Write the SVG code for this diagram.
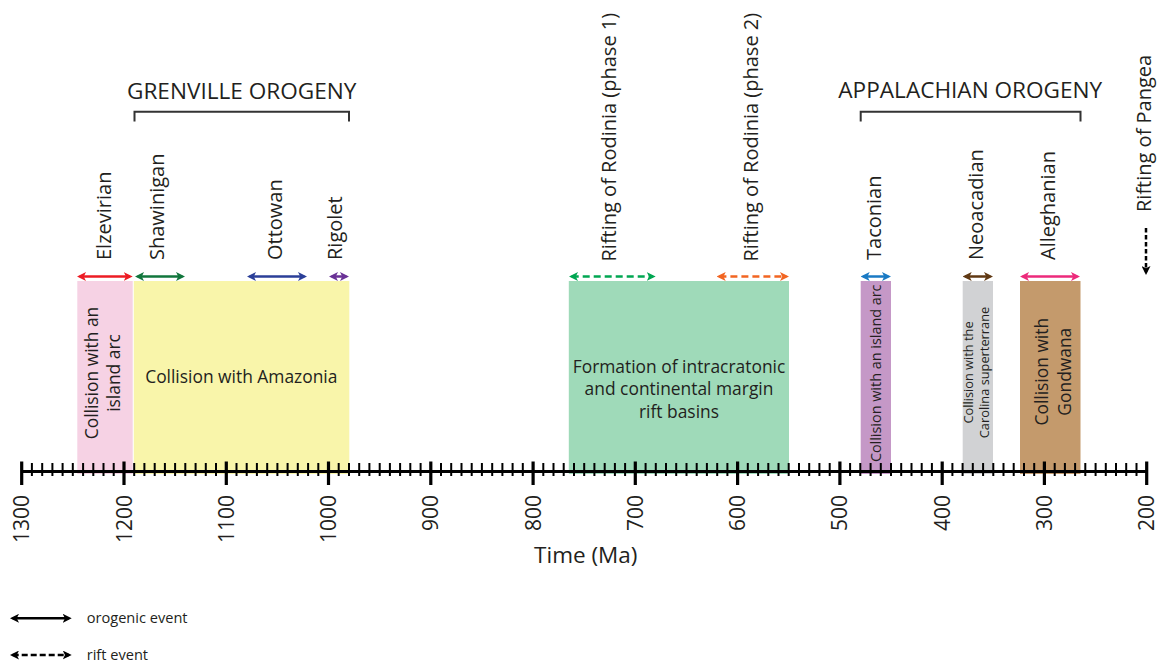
<svg xmlns="http://www.w3.org/2000/svg" width="1163" height="667" viewBox="0 0 1163 667">
<style>
text{font-family:"Open Sans","Noto Sans","Liberation Sans",sans-serif;fill:#231f20}
.title{font-size:22.6px;text-anchor:middle}
.lab{font-size:20px}
.num{font-size:21px;text-anchor:end}
.in{font-size:17.4px;text-anchor:middle}
.arr{fill:none;stroke-width:2.5}
.dash{stroke-dasharray:7 4}
.brk{fill:none;stroke:#333;stroke-width:2}
</style>
<defs>
<marker id="mk-red" viewBox="0 0 10 10" markerUnits="userSpaceOnUse" markerWidth="9" markerHeight="9" refX="7" refY="5" orient="auto-start-reverse"><path d="M0,0 L10,5 L0,10 L2.5,5 Z" fill="#ed1c24"/></marker>
<marker id="mk-dgreen" viewBox="0 0 10 10" markerUnits="userSpaceOnUse" markerWidth="9" markerHeight="9" refX="7" refY="5" orient="auto-start-reverse"><path d="M0,0 L10,5 L0,10 L2.5,5 Z" fill="#11763c"/></marker>
<marker id="mk-blue" viewBox="0 0 10 10" markerUnits="userSpaceOnUse" markerWidth="9" markerHeight="9" refX="7" refY="5" orient="auto-start-reverse"><path d="M0,0 L10,5 L0,10 L2.5,5 Z" fill="#2b3f98"/></marker>
<marker id="mk-purple" viewBox="0 0 10 10" markerUnits="userSpaceOnUse" markerWidth="9" markerHeight="9" refX="7" refY="5" orient="auto-start-reverse"><path d="M0,0 L10,5 L0,10 L2.5,5 Z" fill="#6a3296"/></marker>
<marker id="mk-green" viewBox="0 0 10 10" markerUnits="userSpaceOnUse" markerWidth="9" markerHeight="9" refX="7" refY="5" orient="auto-start-reverse"><path d="M0,0 L10,5 L0,10 L2.5,5 Z" fill="#00a651"/></marker>
<marker id="mk-orange" viewBox="0 0 10 10" markerUnits="userSpaceOnUse" markerWidth="9" markerHeight="9" refX="7" refY="5" orient="auto-start-reverse"><path d="M0,0 L10,5 L0,10 L2.5,5 Z" fill="#f26522"/></marker>
<marker id="mk-lblue" viewBox="0 0 10 10" markerUnits="userSpaceOnUse" markerWidth="9" markerHeight="9" refX="7" refY="5" orient="auto-start-reverse"><path d="M0,0 L10,5 L0,10 L2.5,5 Z" fill="#1a7ac4"/></marker>
<marker id="mk-brown" viewBox="0 0 10 10" markerUnits="userSpaceOnUse" markerWidth="9" markerHeight="9" refX="7" refY="5" orient="auto-start-reverse"><path d="M0,0 L10,5 L0,10 L2.5,5 Z" fill="#603913"/></marker>
<marker id="mk-pink" viewBox="0 0 10 10" markerUnits="userSpaceOnUse" markerWidth="9" markerHeight="9" refX="7" refY="5" orient="auto-start-reverse"><path d="M0,0 L10,5 L0,10 L2.5,5 Z" fill="#ec2a7b"/></marker>
<marker id="mk-black" viewBox="0 0 10 10" markerUnits="userSpaceOnUse" markerWidth="9" markerHeight="9" refX="7" refY="5" orient="auto-start-reverse"><path d="M0,0 L10,5 L0,10 L2.5,5 Z" fill="#000"/></marker>
</defs>
<rect width="1163" height="667" fill="#fff"/>

<g id="event-boxes">
<g id="box-elzevirian"><rect x="77.3" y="281" width="55.4" height="193" fill="#f6d2e4"/>
<text class="in" transform="translate(97.5,373) rotate(-90)">Collision with an</text>
<text class="in" transform="translate(119.5,373) rotate(-90)">island arc</text></g>
<g id="box-amazonia"><rect x="133.8" y="281" width="215.5" height="193" fill="#f9f5aa"/>
<text class="in" x="241.3" y="383">Collision with Amazonia</text></g>
<g id="box-rift"><rect x="568.8" y="281" width="220.2" height="193" fill="#9fdab9"/>
<text class="in" x="679" y="372.5">Formation of intracratonic</text>
<text class="in" x="679" y="395">and continental margin</text>
<text class="in" x="679" y="417.5">rift basins</text></g>
<g id="box-taconian"><rect x="860.7" y="281" width="30.3" height="193" fill="#c598c7"/>
<text class="in" style="font-size:14.4px" transform="translate(881,373.3) rotate(-90)">Collision with an island arc</text></g>
<g id="box-neoacadian"><rect x="962.7" y="281" width="30.3" height="193" fill="#d1d2d4"/>
<text class="in" style="font-size:12.8px" transform="translate(973,372.5) rotate(-90)">Collision with the</text>
<text class="in" style="font-size:12.8px" transform="translate(988.5,372.5) rotate(-90)">Carolina superterrane</text></g>
<g id="box-alleghanian"><rect x="1020" y="281" width="60.5" height="193" fill="#c49a6c"/>
<text class="in" transform="translate(1048,371.7) rotate(-90)">Collision with</text>
<text class="in" transform="translate(1070.5,371.7) rotate(-90)">Gondwana</text></g>
</g>

<g id="axis">
<path d="M21.7,471.5 H1146.7" stroke="#000" stroke-width="3" fill="none"/>
<path stroke="#000" stroke-width="3.2" fill="none" d="M21.7,461.5V485 M124,461.5V485 M226.3,461.5V485 M328.5,461.5V485 M430.8,461.5V485 M533.1,461.5V485 M635.3,461.5V485 M737.6,461.5V485 M839.9,461.5V485 M942.2,461.5V485 M1044.4,461.5V485 M1146.7,461.5V485"/>
<path stroke="#000" stroke-width="2" fill="none" d="M31.9,463V476 M42.2,463V476 M52.4,463V476 M62.6,463V476 M72.8,463V476 M83.1,463V476 M93.3,463V476 M103.5,463V476 M113.7,463V476
M134.2,463V476 M144.4,463V476 M154.7,463V476 M164.9,463V476 M175.1,463V476 M185.3,463V476 M195.6,463V476 M205.8,463V476 M216,463V476
M236.5,463V476 M246.7,463V476 M256.9,463V476 M267.2,463V476 M277.4,463V476 M287.6,463V476 M297.8,463V476 M308.1,463V476 M318.3,463V476
M338.7,463V476 M349,463V476 M359.2,463V476 M369.4,463V476 M379.7,463V476 M389.9,463V476 M400.1,463V476 M410.3,463V476 M420.6,463V476
M441,463V476 M451.2,463V476 M461.5,463V476 M471.7,463V476 M481.9,463V476 M492.2,463V476 M502.4,463V476 M512.6,463V476 M522.8,463V476
M543.3,463V476 M553.5,463V476 M563.7,463V476 M574,463V476 M584.2,463V476 M594.4,463V476 M604.7,463V476 M614.9,463V476 M625.1,463V476
M645.6,463V476 M655.8,463V476 M666,463V476 M676.2,463V476 M686.5,463V476 M696.7,463V476 M706.9,463V476 M717.2,463V476 M727.4,463V476
M747.8,463V476 M758.1,463V476 M768.3,463V476 M778.5,463V476 M788.7,463V476 M799,463V476 M809.2,463V476 M819.4,463V476 M829.7,463V476
M850.1,463V476 M860.3,463V476 M870.6,463V476 M880.8,463V476 M891,463V476 M901.2,463V476 M911.5,463V476 M921.7,463V476 M931.9,463V476
M952.4,463V476 M962.6,463V476 M972.8,463V476 M983.1,463V476 M993.3,463V476 M1003.5,463V476 M1013.7,463V476 M1024,463V476 M1034.2,463V476
M1054.7,463V476 M1064.9,463V476 M1075.1,463V476 M1085.3,463V476 M1095.6,463V476 M1105.8,463V476 M1116,463V476 M1126.2,463V476 M1136.5,463V476"/>
<text class="num" transform="translate(29.2,495) rotate(-90)">1300</text>
<text class="num" transform="translate(131.5,495) rotate(-90)">1200</text>
<text class="num" transform="translate(233.8,495) rotate(-90)">1100</text>
<text class="num" transform="translate(336,495) rotate(-90)">1000</text>
<text class="num" transform="translate(438.3,495) rotate(-90)">900</text>
<text class="num" transform="translate(540.6,495) rotate(-90)">800</text>
<text class="num" transform="translate(642.8,495) rotate(-90)">700</text>
<text class="num" transform="translate(745.1,495) rotate(-90)">600</text>
<text class="num" transform="translate(847.4,495) rotate(-90)">500</text>
<text class="num" transform="translate(949.7,495) rotate(-90)">400</text>
<text class="num" transform="translate(1051.9,495) rotate(-90)">300</text>
<text class="num" transform="translate(1154.2,495) rotate(-90)">200</text>
<text class="title" style="font-size:22.5px" x="585.8" y="563.3">Time (Ma)</text>
</g>

<g id="orogenies">
<g id="grenville"><text class="title" x="241.7" y="98.5">GRENVILLE OROGENY</text>
<path class="brk" d="M134.5,121.5 V111.7 H349 V121.5"/></g>
<g id="appalachian"><text class="title" x="970.3" y="98.3">APPALACHIAN OROGENY</text>
<path class="brk" d="M860.7,121.5 V111.7 H1080.5 V121.5"/></g>
</g>

<g id="event-labels">
<text class="lab" transform="translate(111,260) rotate(-90)">Elzevirian</text>
<text class="lab" transform="translate(164,260) rotate(-90)">Shawinigan</text>
<text class="lab" transform="translate(282,260) rotate(-90)">Ottowan</text>
<text class="lab" transform="translate(342,260) rotate(-90)">Rigolet</text>
<text class="lab" transform="translate(615.5,261.5) rotate(-90)">Rifting of Rodinia (phase 1)</text>
<text class="lab" transform="translate(758,261.5) rotate(-90)">Rifting of Rodinia (phase 2)</text>
<text class="lab" transform="translate(881,260) rotate(-90)">Taconian</text>
<text class="lab" transform="translate(983,260) rotate(-90)">Neoacadian</text>
<text class="lab" transform="translate(1055,260) rotate(-90)">Alleghanian</text>
<text class="lab" transform="translate(1151,212) rotate(-90)">Rifting of Pangea</text>
</g>

<g id="connectors">
<path class="arr" stroke="#ed1c24" marker-start="url(#mk-red)" marker-end="url(#mk-red)" d="M79.7,276.5 H130"/>
<path class="arr" stroke="#11763c" marker-start="url(#mk-dgreen)" marker-end="url(#mk-dgreen)" d="M137.7,276.5 H182.3"/>
<path class="arr" stroke="#2b3f98" marker-start="url(#mk-blue)" marker-end="url(#mk-blue)" d="M249.7,276.5 H304.3"/>
<path class="arr" stroke="#6a3296" marker-start="url(#mk-purple)" marker-end="url(#mk-purple)" d="M331.7,276.5 H346.3"/>
<path class="arr dash" stroke="#00a651" marker-start="url(#mk-green)" marker-end="url(#mk-green)" d="M571.7,276.5 H653"/>
<path class="arr dash" stroke="#f26522" marker-start="url(#mk-orange)" marker-end="url(#mk-orange)" d="M719.4,276.5 H786.3"/>
<path class="arr" stroke="#1a7ac4" marker-start="url(#mk-lblue)" marker-end="url(#mk-lblue)" d="M863.4,276.5 H888.3"/>
<path class="arr" stroke="#603913" marker-start="url(#mk-brown)" marker-end="url(#mk-brown)" d="M965.4,276.5 H990.3"/>
<path class="arr" stroke="#ec2a7b" marker-start="url(#mk-pink)" marker-end="url(#mk-pink)" d="M1022.7,276.5 H1077.3"/>
<path class="arr" stroke="#000" style="stroke-dasharray:4.5 2.5" marker-end="url(#mk-black)" d="M1146,228 V272.3"/>
</g>

<g id="legend">
<g id="legend-orogenic"><path class="arr" stroke="#000" marker-start="url(#mk-black)" marker-end="url(#mk-black)" d="M12.7,618.3 H69"/>
<text x="86.7" y="623.3" style="font-size:14.6px">orogenic event</text></g>
<g id="legend-rift"><path class="arr" stroke="#000" style="stroke-dasharray:6 3" marker-start="url(#mk-black)" marker-end="url(#mk-black)" d="M12.7,655 H69"/>
<text x="86.7" y="660" style="font-size:14.6px">rift event</text></g>
</g>
</svg>
